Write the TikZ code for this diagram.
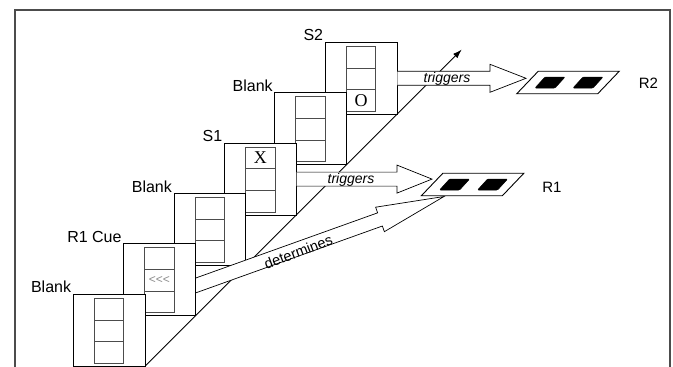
\documentclass[tikz,border=0pt]{standalone}
\usepackage{fontspec}
\setmainfont{Liberation Sans}
\newfontfamily\timesfont{Liberation Serif}
\newfontfamily\plainsans{Liberation Sans}
\usetikzlibrary{calc,arrows.meta}

% #1 style, #2 from, #3 to, #4 shaft half width, #5 head half width, #6 head length
\newcommand\blockarrow[6]{%
  \coordinate (ba-h) at ($(#3)!#6!(#2)$);
  \path[#1] ($(#2)!#4!90:(#3)$) -- ($(ba-h)!#4!90:(#3)$) -- ($(ba-h)!#5!90:(#3)$)
     -- (#3) -- ($(ba-h)!#5!-90:(#3)$) -- ($(ba-h)!#4!-90:(#3)$) -- ($(#2)!#4!-90:(#3)$);
}
% #1 index, #2 label
\newcommand\drawpanel[2]{%
  \pgfmathsetmacro\px{73.3+50.4*#1}%
  \pgfmathsetmacro\py{294.3-50.4*#1}%
  \node[panel] (p#1) at (\px,\py) {};
  \node[cell] (c#1-1) at ({\px+21},{\py+4}) {};
  \node[cell] (c#1-2) at (c#1-1.south west) {};
  \node[cell] (c#1-3) at (c#1-2.south west) {};
  \node[plabel] (l#1) at ({\px-2},{\py-1.5}) {#2};
}

\begin{document}
\begin{tikzpicture}[x=1pt,y=-1pt,
  frame/.style={draw=black!70, line width=1.4pt},
  panel/.style={draw=black, fill=white, line width=0.9pt, minimum width=71.7pt,
    minimum height=72pt, inner sep=0pt, outer sep=0pt, anchor=north west},
  cell/.style={draw=black!70, line width=0.9pt, minimum width=29.5pt,
    minimum height=21.67pt, inner sep=0pt, outer sep=0pt, anchor=north west},
  plabel/.style={font=\fontsize{16}{18}\selectfont, anchor=base east, inner sep=0pt},
  arrowbody/.style={fill=white, draw=black, line width=0.7pt, line join=miter},
  arrowtext/.style={font=\fontsize{14}{16}\selectfont\itshape, inner sep=0pt},
  dettext/.style={font=\fontsize{14.5}{16}\selectfont, inner sep=0pt},
  para/.style={draw=black, fill=white, line width=0.9pt},
  keyshape/.style={fill=black, draw=black, line width=0.5pt, rounded corners=1pt},
  rlabel/.style={font=\fontsize{15}{17}\selectfont, inner sep=0pt},
  diag/.style={draw=black, line width=0.8pt, -{Latex[length=9pt,width=6pt]}}
]
\useasboundingbox (0,0) rectangle (673,367);
\draw[frame] (15,372) -- (15,10) -- (670,10) -- (670,372);

\drawpanel{5}{S2}
\drawpanel{4}{Blank}
\drawpanel{3}{S1}
\drawpanel{2}{Blank}

\coordinate (dstart) at (145,366.3);
\coordinate (dend) at (461.7,49.6);
\draw[diag] (dstart) -- (dend);

\coordinate (detstart) at (185,289.3);
\coordinate (dettip) at (444,196.5);
\blockarrow{arrowbody}{detstart}{dettip}{7pt}{13pt}{68pt}
\node[dettext, rotate=21] (dett) at (298.3,252) {determines};

\drawpanel{1}{R1 Cue}
\drawpanel{0}{Blank}

\node[font=\timesfont\fontsize{18}{20}\selectfont, inner sep=0pt] (xm) at (c3-1) {X};
\node[font=\timesfont\fontsize{18}{20}\selectfont, inner sep=0pt] (om) at (c5-3) {O};
\node[font=\plainsans\fontsize{12}{14}\selectfont, text=black!45, inner sep=0pt] (cue) at (c1-2) {<\kern0pt<\kern0pt<};

% triggers arrows
\coordinate (t2start) at ([xshift=0.45pt]p5.east);
\coordinate (t2tip) at (526,78.3);
\blockarrow{arrowbody}{t2start}{t2tip}{7pt}{14pt}{36pt}
\node[arrowtext] (t2text) at (447,78.5) {triggers};
\coordinate (t1start) at ([xshift=0.45pt]p3.east);
\coordinate (t1tip) at (432,179.1);
\blockarrow{arrowbody}{t1start}{t1tip}{7pt}{14pt}{35pt}
\node[arrowtext] (t1text) at (351,180) {triggers};

% response pads
\coordinate (r2) at (568,82.5);
\coordinate (r1) at (472.6,184.5);
\foreach \r in {r1,r2}{
  \draw[para] ($(\r)+(-29.75,-11.25)$) -- ($(\r)+(51.25,-11.25)$)
     -- ($(\r)+(29.75,11.25)$) -- ($(\r)+(-51.25,11.25)$) -- cycle;
  \filldraw[keyshape] ($(\r)+(-23,-5.5)$) -- ($(\r)+(-3,-5.5)$)
     -- ($(\r)+(-13,5.5)$) -- ($(\r)+(-33,5.5)$) -- cycle;
  \filldraw[keyshape] ($(\r)+(15,-5.5)$) -- ($(\r)+(35,-5.5)$)
     -- ($(\r)+(25,5.5)$) -- ($(\r)+(5,5.5)$) -- cycle;
}
\node[rlabel] (r2l) at (648.5,83) {R2};
\node[rlabel] (r1l) at (552,187.5) {R1};
\end{tikzpicture}
\end{document}
